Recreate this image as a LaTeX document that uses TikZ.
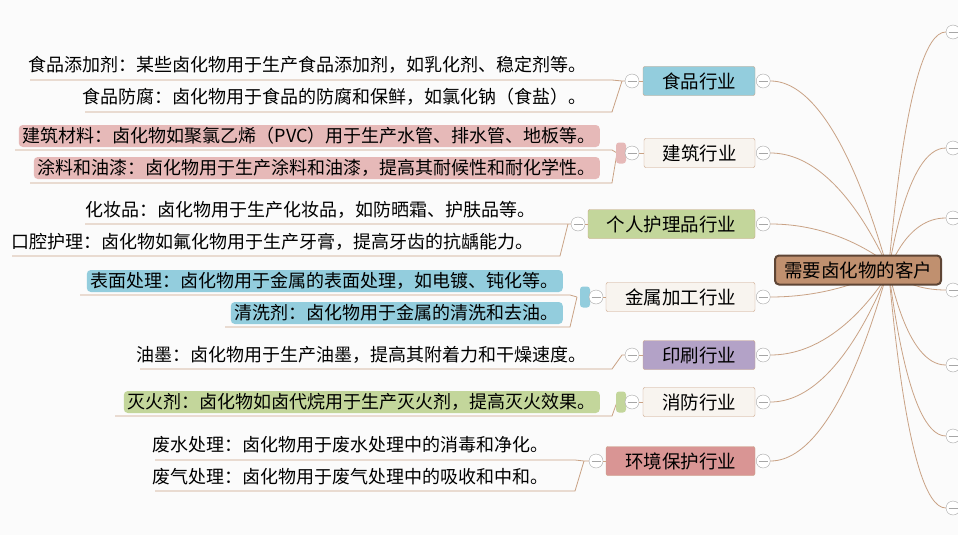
\documentclass[tikz,border=0pt]{standalone}
\usepackage{fontspec}
\setmainfont{Noto Sans CJK SC}
\definecolor{linec}{HTML}{C9A285}
\definecolor{foldc}{HTML}{A6A6A6}
\definecolor{rootf}{HTML}{C0906F}
\definecolor{rootd}{HTML}{5E4535}
\definecolor{bluef}{HTML}{93CDDD}
\definecolor{pinkf}{HTML}{E6B9B8}
\definecolor{greenf}{HTML}{C3D69B}
\definecolor{purplef}{HTML}{B3A2C7}
\definecolor{redf}{HTML}{D99594}
\definecolor{plainf}{HTML}{F8F4EF}
\tikzset{
  branch/.style={draw=linec, rounded corners=2pt, minimum height=29pt, font=\fontsize{18.5}{20}\selectfont, inner xsep=4pt},
  leaf/.style={font=\fontsize{18}{20}\selectfont, inner sep=1pt, minimum height=22pt},
  leafbox/.style={leaf, rounded corners=4pt},
  conn/.style={linec, line width=0.8pt},
  marker/.style={rounded corners=3pt, minimum width=10pt, minimum height=21pt, inner sep=0pt},
  fold/.style={circle, draw=foldc, fill=white, minimum size=14pt, inner sep=0pt,
    path picture={\draw[foldc, line width=0.8pt] ([xshift=-4.5pt]path picture bounding box.center) -- ([xshift=4.5pt]path picture bounding box.center);}}
}
\begin{document}
\begin{tikzpicture}[x=1pt,y=-1pt]
  \useasboundingbox[fill={rgb,255:red,251;green,251;blue,251}] (0,0) rectangle (958,535);
  % branches
  \node[branch, fill=bluef, minimum width=112pt] (food) at (699,81) {食品行业};
  \node[branch, fill=plainf, minimum width=111pt] (build) at (699.5,153) {建筑行业};
  \node[branch, fill=greenf, minimum width=167pt] (care) at (671.5,224) {个人护理品行业};
  \node[branch, fill=plainf, minimum width=149pt] (metal) at (680.5,297) {金属加工行业};
  \node[branch, fill=purplef, minimum width=112pt] (print) at (699,355) {印刷行业};
  \node[branch, fill=plainf, minimum width=112pt] (fire) at (699,402) {消防行业};
  \node[branch, fill=redf, minimum width=149pt] (env) at (680.5,461) {环境保护行业};
  % links to root
  \foreach \b/\ty in {food/262, build/262, care/262, metal/270, print/278, fire/278, env/278}{
    \node[fold] (\b r) at ([xshift=8pt]\b.east) {};
    \draw[conn] (\b r.east) .. controls ([xshift=70pt]\b r.east) and (884,\ty) .. (886,\ty);
  }
  % right folds
  \foreach \n/\y in {r1/32, r2/148, r3/218, r4/290, r5/365, r6/436, r7/508}{
    \node[fold] (\n) at (953,\y) {};
    \draw[conn] (\n.west) .. controls (905,\y) and (890,270) .. (888,270);
  }
  % root
  \node[draw=rootd, line width=2pt, fill=rootf, rounded corners=4pt, minimum width=166pt, minimum height=29pt, font=\fontsize{18.5}{20}\selectfont] (root) at (858,270) {需要卤化物的客户};
  % food leaves
  \node[leaf, anchor=east] (f1) at (588,65) {食品添加剂：某些卤化物用于生产食品添加剂，如乳化剂、稳定剂等。};
  \node[leaf, anchor=east] (f2) at (588,97) {食品防腐：卤化物用于食品的防腐和保鲜，如氯化钠（食盐）。};
  \node[fold] (fl) at (632,81) {};
  \draw[conn] (30,80) -- (612,80) -- (622,81) (85,112) -- (612,112) -- (622,81) -- (fl.west);
  \draw[conn] (fl.east) -- (food.west);
  % building leaves
  \node[leafbox, fill=pinkf, anchor=east, inner xsep=4pt] (b1) at (600,136) {建筑材料：卤化物如聚氯乙烯（PVC）用于生产水管、排水管、地板等。};
  \node[leafbox, fill=pinkf, anchor=east, inner xsep=4pt] (b2) at (600,168) {涂料和油漆：卤化物用于生产涂料和油漆，提高其耐候性和耐化学性。};
  \draw[conn] (15,150) -- (612,150) -- (617,153) (30,183) -- (612,183) -- (617,153);
  \node[marker, fill=pinkf] (bm) at (621,153) {};
  \node[fold] (bl) at (632,153) {};
  \draw[conn] (bl.east) -- (build.west);
  % personal care leaves
  \node[leaf, anchor=east] (c1) at (537,210) {化妆品：卤化物用于生产化妆品，如防晒霜、护肤品等。};
  \node[leaf, anchor=east] (c2) at (535,242) {口腔护理：卤化物如氟化物用于生产牙膏，提高牙齿的抗龋能力。};
  \node[fold] (cl) at (578,224) {};
  \draw[conn] (85,224) -- (560,224) -- (568,224) (12,256) -- (560,256) -- (568,224) -- (cl.west);
  \draw[conn] (cl.east) -- (care.west);
  % metal leaves
  \node[leafbox, fill=bluef, anchor=east, inner xsep=4pt] (m1) at (563,281) {表面处理：卤化物用于金属的表面处理，如电镀、钝化等。};
  \node[leafbox, fill=bluef, anchor=east, inner xsep=4pt] (m2) at (563,313) {清洗剂：卤化物用于金属的清洗和去油。};
  \draw[conn] (80,295) -- (570,295) -- (577,297) (225,327) -- (570,327) -- (577,297);
  \node[marker, fill=bluef] (mm) at (585,297) {};
  \node[fold] (ml) at (596,297) {};
  \draw[conn] (ml.east) -- (metal.west);
  % printing leaf
  \node[leaf, anchor=east] (p1) at (588,355) {油墨：卤化物用于生产油墨，提高其附着力和干燥速度。};
  \node[fold] (pl) at (632,355) {};
  \draw[conn] (140,369) -- (612,369) -- (622,355) -- (pl.west);
  \draw[conn] (pl.east) -- (print.west);
  % fire leaf
  \node[leafbox, fill=greenf, anchor=east, inner xsep=4pt] (x1) at (600,402) {灭火剂：卤化物如卤代烷用于生产灭火剂，提高灭火效果。};
  \draw[conn] (115,416) -- (612,416) -- (617,402);
  \node[marker, fill=greenf] (xm) at (621,402) {};
  \node[fold] (xl) at (632,402) {};
  \draw[conn] (xl.east) -- (fire.west);
  % environment leaves
  \node[leaf, anchor=east] (e1) at (550,445) {废水处理：卤化物用于废水处理中的消毒和净化。};
  \node[leaf, anchor=east] (e2) at (550,477) {废气处理：卤化物用于废气处理中的吸收和中和。};
  \node[fold] (el) at (596,461) {};
  \draw[conn] (155,460) -- (575,460) -- (584,461) (155,491) -- (575,491) -- (584,461) -- (el.west);
  \draw[conn] (el.east) -- (env.west);
\end{tikzpicture}
\end{document}
